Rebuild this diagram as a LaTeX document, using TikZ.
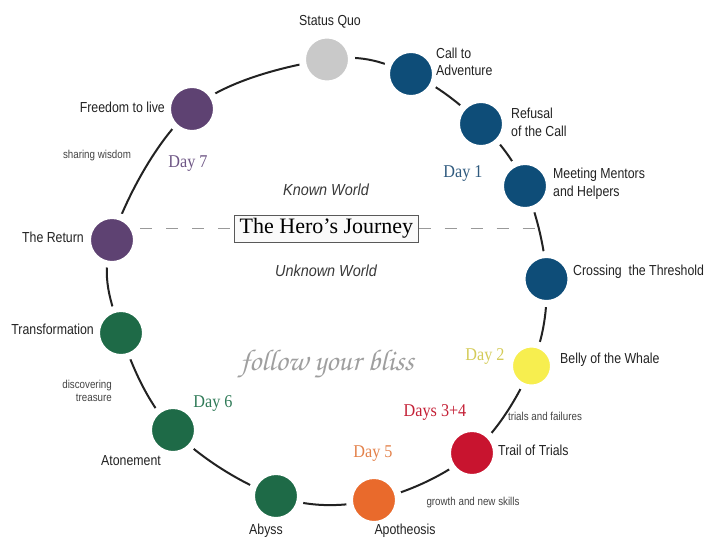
\documentclass[tikz,border=0pt]{standalone}
\usepackage{fontspec}
\usetikzlibrary{backgrounds}
\newfontfamily\labelfont[FakeStretch=0.85]{Liberation Sans}
\newfontfamily\worldfont[FakeStretch=0.9]{Liberation Sans}
\newfontfamily\dayfont[FakeStretch=0.9]{Liberation Serif}
\newfontfamily\titlefont{Liberation Serif}
\newfontfamily\blissfont{TeX Gyre Chorus}

\definecolor{ink}{HTML}{222222}
\definecolor{quogray}{HTML}{C9C9C9}
\definecolor{callblue}{HTML}{0E4D78}
\definecolor{whaleyellow}{HTML}{F7EE4F}
\definecolor{trialred}{HTML}{C8142F}
\definecolor{apoorange}{HTML}{E96A2C}
\definecolor{abyssgreen}{HTML}{1E6A47}
\definecolor{returnpurple}{HTML}{5E4272}
\definecolor{day1}{HTML}{2F5A7E}
\definecolor{day2}{HTML}{D4CB58}
\definecolor{day34}{HTML}{C42036}
\definecolor{day5}{HTML}{E3814A}
\definecolor{day6}{HTML}{2F7A57}
\definecolor{day7}{HTML}{6E5685}

\begin{document}
\begin{tikzpicture}[x=1pt, y=-1pt,
  station/.style={circle, inner sep=0pt, minimum size=49pt, draw=white, line width=7pt, fill=#1},
  lbl/.style={inner sep=0pt, text=ink, font=\labelfont\fontsize{14.5}{17.5}\selectfont},
  note/.style={inner sep=0pt, text=ink!85, font=\labelfont\fontsize{11.5}{13}\selectfont},
  day/.style={inner sep=0pt, text=#1, font=\dayfont\fontsize{18}{20}\selectfont},
  world/.style={inner sep=0pt, text=ink!90, font=\worldfont\itshape\fontsize{16}{18}\selectfont},
  ring/.style={line width=2pt, draw=ink},
  divider/.style={draw=gray!80, line width=1.3pt, dash pattern=on 12pt off 14pt}]
\useasboundingbox (0,0) rectangle (705,539);

% the stations of the journey
\node[station=quogray] (sq) at (327,59.5) {};
\node[station=callblue] (call) at (411,74) {};
\node[station=callblue] (refusal) at (481,124) {};
\node[station=callblue] (mentors) at (525,186) {};
\node[station=callblue] (threshold) at (546.5,279) {};
\node[station=whaleyellow, minimum size=44pt] (belly) at (531.5,366) {};
\node[station=trialred] (trials) at (472,453) {};
\node[station=apoorange] (apotheosis) at (374,500) {};
\node[station=abyssgreen] (abyss) at (276,496) {};
\node[station=abyssgreen] (atonement) at (173,430) {};
\node[station=abyssgreen] (transform) at (121,333) {};
\node[station=returnpurple] (return) at (112,240) {};
\node[station=returnpurple] (freedom) at (192,109) {};

\node[draw=gray!70!black, fill=gray!4, line width=0.8pt, inner xsep=5pt, minimum height=27pt,
  font=\titlefont\fontsize{22}{24}\selectfont] (title) at (326.5,228.5) {The Hero’s Journey};
\coordinate (dashend) at (541,228.5);

\begin{scope}[on background layer]
\draw[ring] plot[smooth cycle, tension=0.6] coordinates {(sq) (call) (refusal) (mentors) (threshold)
  (belly) (trials) (apotheosis) (abyss) (atonement) (transform) (return) (freedom)};
\draw[divider] (title.west -| return.east) -- (title.west);
\draw[divider] (title.east) -- (dashend);
\end{scope}

% stage names
\node[lbl, anchor=base] (sqlbl) at (330,25.5) {Status Quo};
\node[lbl, anchor=west, align=left] (calllbl) at (436,62) {Call to\\Adventure};
\node[lbl, anchor=west, align=left] (refusallbl) at (511,122.5) {Refusal\\of the Call};
\node[lbl, anchor=west, align=left] (mentorslbl) at (553,183.5) {Meeting Mentors\\and Helpers};
\node[lbl, anchor=base west] (thresholdlbl) at (573,275) {Crossing\ \ the Threshold};
\node[lbl, anchor=base west] (bellylbl) at (560,363.5) {Belly of the Whale};
\node[lbl, anchor=base west] (trialslbl) at (498,455) {Trail of Trials};
\node[lbl, anchor=base] (apolbl) at (405,534.5) {Apotheosis};
\node[lbl, anchor=base] (abysslbl) at (266,534) {Abyss};
\node[lbl, anchor=base] (atonementlbl) at (131,465) {Atonement};
\node[lbl, anchor=base east] (translbl) at (94,334) {Transformation};
\node[lbl, anchor=base east] (returnlbl) at (84,242.5) {The Return};
\node[lbl, anchor=base east] (freedomlbl) at (165,112.3) {Freedom to live};

% small notes
\node[note, anchor=base] (wisdom) at (97,158.5) {sharing wisdom};
\node[note, anchor=east, align=right] (treasure) at (112,391) {discovering\\treasure};
\node[note, anchor=base] (failures) at (545,420.5) {trials and failures};
\node[note, anchor=base] (skills) at (473,505) {growth and new skills};

% days
\node[day=day1, anchor=base] (d1) at (463,177.3) {Day 1};
\node[day=day2, anchor=base] (d2) at (485,360.7) {Day 2};
\node[day=day34, anchor=base] (d34) at (435,416) {Days 3+4};
\node[day=day5, anchor=base] (d5) at (373,457) {Day 5};
\node[day=day6, anchor=base] (d6) at (213,407.3) {Day 6};
\node[day=day7, anchor=base] (d7) at (188,167) {Day 7};

\node[world, anchor=base] (known) at (326,195.7) {Known World};
\node[world, anchor=base] (unknown) at (326,276) {Unknown World};
\node[inner sep=0pt, text=gray!75, font=\blissfont\fontsize{30}{32}\selectfont, anchor=base] (bliss) at (327,370) {follow your bliss};
\end{tikzpicture}
\end{document}
